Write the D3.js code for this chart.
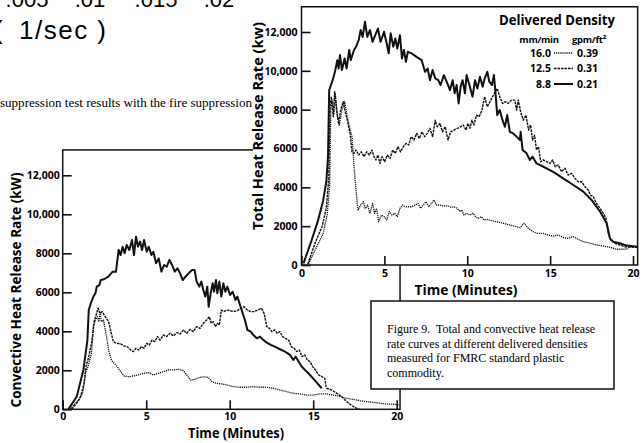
<!DOCTYPE html>
<html>
<head>
<meta charset="utf-8">
<script src="https://cdn.jsdelivr.net/npm/d3@7"></script>
<style>
  body { margin: 0; background: #fff; }
  svg { display: block; }
</style>
</head>
<body>
<svg id="fig" width="642" height="443"></svg>
<script>
// Heat release rate curves, FMRC standard plastic commodity, three sprinkler densities.
// Each series: [time (min), heat release rate (kW)]

// ---- Total heat release rate ----
const total_16_0 = [[0.42,50],[0.95,1000],[1.3,1600],[1.55,2600],[1.7,4100],[1.77,8000],[1.84,8490],[1.96,7810],[2.04,8840],[2.16,7720],[2.28,7210],[2.44,7980],[2.6,8410],[2.76,7640],[2.93,6950],[3.05,6610],[3.17,5060],[3.29,3860],[3.41,2830],[3.57,3090],[3.73,3260],[3.85,2920],[3.99,3090],[4.13,2660],[4.29,3170],[4.41,2660],[4.53,2920],[4.65,2230],[4.82,2570],[4.98,2490],[5.14,2320],[5.3,2750],[5.46,2570],[5.62,2660],[5.78,2490],[5.94,2920],[6.1,3090],[6.26,3000],[6.46,3000],[6.66,3000],[6.87,3090],[7.03,3170],[7.19,2920],[7.35,3090],[7.51,3260],[7.67,3000],[7.83,3170],[7.99,3350],[8.15,3090],[8.35,3090],[8.59,3040],[8.84,3040],[9.04,2970],[9.2,3000],[9.4,2920],[9.56,2750],[9.68,2830],[9.8,2570],[9.96,2660],[10.16,2570],[10.36,2660],[10.49,2490],[10.65,2400],[10.85,2490],[11.01,2320],[11.21,2350],[11.47,2280],[11.77,2230],[12.17,2150],[12.57,2060],[12.98,1970],[13.18,1920],[13.42,2150],[13.68,1890],[13.98,1720],[14.22,1630],[14.59,1630],[14.89,1540],[15.19,1490],[15.49,1540],[15.79,1420],[16.09,1370],[16.4,1460],[16.7,1320],[17.0,1200],[17.4,1120],[17.8,1030],[18.21,980],[18.61,910],[19.01,810],[19.41,810],[19.71,840]];

const total_12_5 = [[0.38,50],[0.85,1200],[1.25,2000],[1.5,2950],[1.64,4400],[1.72,8150],[1.8,8670],[1.92,7640],[2.0,8920],[2.12,7980],[2.24,7290],[2.36,7980],[2.52,8410],[2.64,7890],[2.76,7460],[2.93,6780],[3.05,5830],[3.17,5750],[3.29,5920],[3.45,5660],[3.61,5830],[3.77,5580],[3.93,5830],[4.09,5660],[4.25,5920],[4.37,5580],[4.49,5410],[4.61,5660],[4.73,5230],[4.86,5580],[5.02,5320],[5.18,5660],[5.34,5490],[5.5,5920],[5.66,5750],[5.82,6090],[5.98,5830],[6.14,6090],[6.3,6260],[6.46,6180],[6.62,6610],[6.79,6440],[6.95,6780],[7.11,6520],[7.27,6860],[7.43,6610],[7.59,6780],[7.75,7040],[7.91,6610],[8.07,7460],[8.19,7120],[8.35,7290],[8.51,6860],[8.67,7120],[8.84,6440],[9.0,6860],[9.2,6950],[9.4,7040],[9.6,7120],[9.76,7210],[9.92,6950],[10.04,7290],[10.16,7040],[10.28,7460],[10.4,7210],[10.56,7720],[10.72,7640],[10.89,7980],[11.05,8670],[11.21,8150],[11.37,8410],[11.53,8670],[11.69,8920],[11.81,9090],[11.96,8670],[12.13,8320],[12.29,8410],[12.47,8320],[12.67,8490],[12.87,8490],[12.98,7980],[13.08,8490],[13.22,7890],[13.38,7460],[13.54,7720],[13.7,6950],[13.82,7210],[13.94,6440],[14.06,6690],[14.18,5920],[14.3,6090],[14.43,5320],[14.59,5410],[14.79,5320],[14.99,5230],[15.15,5410],[15.31,5060],[15.49,5150],[15.69,4800],[15.89,4980],[16.09,4630],[16.3,4720],[16.5,4460],[16.7,4290],[16.9,4290],[17.1,4030],[17.3,3860],[17.44,3600],[17.6,3520],[17.8,3170],[18.01,2920],[18.21,2660],[18.37,2400],[18.51,1630],[18.65,1290],[18.91,1120],[19.21,1030],[19.51,940],[19.81,910],[20.28,910]];

const total_8_8 = [[0.12,80],[0.6,1250],[1.0,2300],[1.3,3300],[1.5,4300],[1.6,5600],[1.67,9000],[1.88,9520],[2.02,9950],[2.16,10550],[2.24,10120],[2.32,10810],[2.44,10040],[2.6,10640],[2.72,10120],[2.88,11070],[2.97,10550],[3.17,11070],[3.29,11240],[3.45,11580],[3.57,12100],[3.69,11750],[3.83,12530],[3.97,11750],[4.13,12100],[4.29,11500],[4.45,11840],[4.61,12180],[4.77,11500],[4.98,12010],[5.14,11410],[5.26,10900],[5.38,11930],[5.54,11240],[5.66,11670],[5.78,11150],[5.94,11840],[6.06,10640],[6.18,11070],[6.3,10470],[6.42,10980],[6.64,10900],[6.94,10720],[7.25,10550],[7.45,9950],[7.61,10120],[7.75,9520],[7.91,10040],[8.07,9610],[8.25,9520],[8.39,9270],[8.59,9780],[8.8,9350],[8.96,9010],[9.12,9520],[9.24,8840],[9.36,9270],[9.48,8320],[9.6,9180],[9.72,9520],[9.86,8840],[9.96,9780],[10.16,9180],[10.32,8670],[10.47,9520],[10.61,9090],[10.77,9700],[10.93,9180],[11.05,9610],[11.21,9950],[11.33,9440],[11.49,9270],[11.61,9780],[11.69,9010],[11.81,7720],[11.96,7980],[12.13,7460],[12.27,7120],[12.41,7720],[12.57,6860],[12.77,6780],[12.98,6610],[13.18,6440],[13.22,6860],[13.34,5920],[13.58,5750],[13.78,5410],[13.94,5580],[14.18,5230],[14.59,5060],[15.19,4800],[15.79,4460],[16.4,4120],[17.0,3780],[17.5,3350],[18.01,2750],[18.41,2150],[18.61,1370],[18.81,1200],[19.21,1120],[19.61,1000],[20.28,940]];

// ---- Convective heat release rate ----
const conv_16_0 = [[0.44,0],[0.94,480],[1.2,820],[1.36,1850],[1.52,2190],[1.72,2870],[1.84,4240],[1.96,4580],[2.08,4750],[2.16,4490],[2.24,4920],[2.32,4490],[2.44,4580],[2.59,3900],[2.75,3040],[2.91,2530],[3.07,2360],[3.27,2190],[3.47,1930],[3.67,1710],[3.93,1670],[4.23,1710],[4.53,1760],[4.83,1850],[5.13,1880],[5.43,1760],[5.73,1850],[6.03,1930],[6.33,2020],[6.63,2020],[6.93,2050],[7.23,1980],[7.43,1760],[7.66,1500],[7.92,1540],[8.22,1640],[8.46,1670],[8.7,1640],[8.94,1420],[9.22,1330],[9.52,1300],[9.82,1250],[10.22,1160],[10.62,1130],[11.02,1130],[11.42,1160],[11.82,1130],[12.22,1130],[12.61,1080],[13.01,990],[13.41,910],[13.81,820],[14.21,790],[14.61,730],[15.01,730],[15.41,790],[15.81,790],[16.21,730],[16.61,650],[17.01,560],[17.41,510],[17.8,440],[18.2,390],[18.6,360],[19.0,310],[19.4,270],[19.8,260],[20.16,220]];

const conv_12_5 = [[0.54,0],[1.04,560],[1.28,1330],[1.4,2190],[1.56,2700],[1.76,3550],[1.88,4490],[2.0,4840],[2.12,5180],[2.24,4920],[2.36,5010],[2.55,4750],[2.75,4490],[2.91,3900],[3.03,3470],[3.23,3380],[3.47,3350],[3.67,3250],[3.87,3210],[4.07,3040],[4.23,2960],[4.39,3130],[4.55,3040],[4.71,3210],[4.87,3130],[5.03,3380],[5.19,3300],[5.35,3550],[5.51,3470],[5.67,3730],[5.83,3550],[6.03,3810],[6.23,3730],[6.43,3900],[6.63,3760],[6.83,3930],[7.03,3860],[7.23,4070],[7.43,3900],[7.62,4100],[7.82,3980],[8.02,4240],[8.22,4150],[8.42,4410],[8.62,4580],[8.78,4750],[8.9,4410],[9.02,4490],[9.14,4240],[9.26,4410],[9.38,4320],[9.5,5090],[9.66,5010],[9.82,5090],[10.02,5060],[10.22,5010],[10.46,5060],[10.66,5180],[10.86,5260],[11.06,5090],[11.26,5010],[11.46,5010],[11.66,5090],[11.9,5180],[12.06,4920],[12.22,4240],[12.38,4150],[12.53,3980],[12.69,4070],[12.85,3900],[13.01,3980],[13.17,3730],[13.33,3640],[13.53,3550],[13.69,3210],[13.85,3130],[14.01,2960],[14.17,3040],[14.33,2700],[14.49,2790],[14.65,2530],[14.81,2440],[14.97,2190],[15.13,2020],[15.33,1760],[15.53,1670],[15.69,1590],[15.77,1160],[15.81,1080],[16.11,990],[16.41,820],[16.71,650],[17.01,390],[17.31,190],[17.6,50],[17.8,0]];

const conv_8_8 = [[0.34,0],[0.84,650],[1.24,2020],[1.48,3550],[1.56,5090],[1.68,5430],[1.84,5780],[1.96,5950],[2.04,6290],[2.2,6370],[2.28,6630],[2.48,6670],[2.73,6800],[2.99,7060],[3.19,7060],[3.35,8170],[3.47,7910],[3.59,8340],[3.71,8000],[3.83,8430],[3.99,8170],[4.15,8680],[4.27,7910],[4.39,8850],[4.51,8340],[4.63,8600],[4.75,8170],[4.87,8680],[5.03,8080],[5.15,8340],[5.31,7910],[5.43,8080],[5.59,7490],[5.75,7740],[5.91,7060],[6.07,7400],[6.23,7310],[6.39,7660],[6.55,7400],[6.71,7060],[6.87,7230],[7.03,6970],[7.19,6630],[7.35,6800],[7.54,6970],[7.74,7140],[7.9,7140],[8.02,6550],[8.18,6290],[8.3,6550],[8.42,6120],[8.54,5780],[8.66,6290],[8.74,5260],[8.86,5950],[8.98,6460],[9.06,6030],[9.18,6630],[9.26,5950],[9.38,6550],[9.5,5780],[9.62,6460],[9.74,6030],[9.86,6290],[10.02,5860],[10.18,6030],[10.34,5610],[10.46,5780],[10.62,5350],[10.78,4920],[10.94,4490],[11.06,4070],[11.26,3980],[11.42,3810],[11.62,3640],[11.82,3730],[12.02,3550],[12.22,3420],[12.46,3300],[12.71,3210],[13.01,3080],[13.31,2960],[13.61,2790],[13.81,2530],[13.95,2700],[14.31,2190],[14.71,1850],[15.11,1470],[15.51,1080]];

// ---- Legend / axis text ----
const densities_mm = ["16.0", "12.5", "8.8"];
const densities_gpm = ["0.39", "0.31", "0.21"];
const yTicks = [0, 2000, 4000, 6000, 8000, 10000, 12000];
const xTicks = [0, 5, 10, 15, 20];
const captionLines = [
  "Figure 9.  Total and convective heat release",
  "rate curves at different delivered densities",
  "measured for FMRC standard plastic",
  "commodity."
];
const strayScaleTicks = [".005", ".01", ".015", ".02"];

// line styling per density
const lineStyle = {
  "16.0": { width: 1.3, dash: "1.2,0.9" },
  "12.5": { width: 1.4, dash: "2.6,0.9" },
  "8.8":  { width: 2.0, dash: null }
};

const svg = d3.select("#fig");
const INK = "#111";
const SANS = "'Open Sans', 'DejaVu Sans', sans-serif";
const SERIF = "'Liberation Serif', 'Times New Roman', serif";
const fmtTick = v => v >= 10000 ? d3.format(",")(v) : String(v);

// ---- text belonging to the neighbouring figure / page ----
const stray = svg.append("g").attr("fill", "#000")
  .style("font-family", "'Liberation Sans', Arial, sans-serif");
const strayX = [27, 90, 156, 219];
stray.selectAll("text.tk").data(strayScaleTicks).join("text")
  .attr("class", "tk")
  .attr("x", (d, i) => strayX[i]).attr("y", 7)
  .attr("text-anchor", "middle").style("font-size", "22px").text(d => d);
stray.append("text").attr("x", -6).attr("y", 39)
  .style("font-size", "26px").text("(");
stray.append("text").attr("x", 19).attr("y", 39)
  .style("font-size", "26px").style("letter-spacing", "1.5px").text("1/sec )");
svg.append("text").attr("x", 0).attr("y", 107)
  .attr("textLength", 252).attr("lengthAdjust", "spacingAndGlyphs")
  .style("font-family", SERIF).style("font-size", "12.6px")
  .text("suppression test results with the fire suppression");

function drawPanel(opts) {
  const g = svg.append("g");
  const x = d3.scaleLinear().domain([0, 20]).range(opts.xr);
  const y = d3.scaleLinear().domain([0, 12000]).range(opts.yr);
  const xMax = opts.xMax, yMax = 13300;

  if (opts.background) {
    g.append("rect").attr("x", opts.background[0]).attr("y", 0)
      .attr("width", 642 - opts.background[0]).attr("height", y(0))
      .attr("fill", "#fff");
  }

  // series
  const line = d3.line().x(d => x(d[0])).y(d => y(d[1]));
  opts.series.forEach(s => {
    const st = lineStyle[s.key];
    g.append("path").datum(s.data)
      .attr("d", line).attr("fill", "none").attr("stroke", INK)
      .attr("stroke-width", st.width)
      .attr("stroke-linejoin", "round")
      .attr("stroke-dasharray", st.dash);
  });

  // frame
  g.append("rect")
    .attr("x", x(0)).attr("y", y(yMax))
    .attr("width", x(xMax) - x(0)).attr("height", y(0) - y(yMax))
    .attr("fill", "none").attr("stroke", INK).attr("stroke-width", 1.5);

  // axes (ticks point into the plot)
  const ya = g.append("g").attr("transform", `translate(${x(0)},0)`)
    .call(d3.axisLeft(y).tickValues(yTicks).tickFormat(fmtTick)
      .tickSizeInner(-9).tickSizeOuter(0).tickPadding(opts.yPad));
  const xa = g.append("g").attr("transform", `translate(0,${y(0)})`)
    .call(d3.axisBottom(x).tickValues(xTicks)
      .tickSizeInner(-9).tickSizeOuter(0).tickPadding(opts.xPad));
  [ya, xa].forEach(a => {
    a.select(".domain").remove();
    a.selectAll("line").attr("stroke", INK).attr("stroke-width", 1.6);
    a.selectAll("text").attr("fill", "#000")
      .style("font-family", SANS).style("font-weight", 700).style("font-size", "10.5px");
  });

  // axis titles
  g.append("text")
    .attr("transform", `translate(${opts.yTitle.x},${opts.yTitle.y}) rotate(-90)`)
    .attr("text-anchor", "middle").attr("dy", "0.35em")
    .attr("textLength", opts.yTitle.len).attr("lengthAdjust", "spacingAndGlyphs")
    .style("font-family", SANS).style("font-weight", 700).style("font-size", "15px")
    .text(opts.yTitle.text);
  g.append("text")
    .attr("x", opts.xTitle.x).attr("y", opts.xTitle.y)
    .attr("text-anchor", "middle")
    .attr("textLength", opts.xTitle.len).attr("lengthAdjust", "spacingAndGlyphs")
    .style("font-family", SANS).style("font-weight", 700).style("font-size", "13.5px")
    .text("Time (Minutes)");
  return { g, x, y };
}

// ---- Convective panel (lower left) ----
drawPanel({
  xr: [62.7, 396.7], yr: [409.3, 175.3], xMax: 20.2,
  yPad: 3, xPad: 3,
  series: [
    { key: "16.0", data: conv_16_0 },
    { key: "12.5", data: conv_12_5 },
    { key: "8.8", data: conv_8_8 }
  ],
  yTitle: { x: 16, y: 290, len: 235, text: "Convective Heat Release Rate (kW)" },
  xTitle: { x: 236, y: 438, len: 96 }
});

// ---- Total panel (upper right, laid over the lower one) ----
drawPanel({
  xr: [301.5, 633], yr: [265, 32], xMax: 20.28,
  yPad: 4, xPad: 5,
  background: [253],
  series: [
    { key: "16.0", data: total_16_0 },
    { key: "12.5", data: total_12_5 },
    { key: "8.8", data: total_8_8 }
  ],
  yTitle: { x: 258, y: 126, len: 208, text: "Total Heat Release Rate (kw)" },
  xTitle: { x: 466, y: 295, len: 103 }
});

// legend
const lg = svg.append("g").attr("fill", "#000")
  .style("font-family", SANS).style("font-weight", 700);
lg.append("text").attr("x", 615).attr("y", 25).attr("text-anchor", "end")
  .attr("textLength", 116).attr("lengthAdjust", "spacingAndGlyphs")
  .style("font-size", "15px").text("Delivered Density");
lg.append("text").attr("x", 539).attr("y", 43).attr("text-anchor", "middle")
  .style("font-size", "9.5px").style("letter-spacing", "-0.3px").text("mm/min");
lg.append("text").attr("x", 589).attr("y", 43).attr("text-anchor", "middle")
  .style("font-size", "9.5px").style("letter-spacing", "-0.3px").text("gpm/ft²");
const rowY = [53, 68.5, 84];
densities_mm.forEach((k, i) => {
  lg.append("text").attr("x", 551).attr("y", rowY[i]).attr("dy", "0.35em")
    .attr("text-anchor", "end").style("font-size", "10.5px").text(k);
  lg.append("text").attr("x", 577).attr("y", rowY[i]).attr("dy", "0.35em")
    .style("font-size", "10.5px").text(densities_gpm[i]);
  const st = lineStyle[k];
  lg.append("line").attr("x1", 554).attr("x2", 573)
    .attr("y1", rowY[i]).attr("y2", rowY[i])
    .attr("stroke", INK).attr("stroke-width", st.width)
    .attr("stroke-dasharray", st.dash);
});

// caption box
const cap = svg.append("g");
cap.append("rect").attr("x", 371).attr("y", 301).attr("width", 243).attr("height", 88)
  .attr("fill", "#fff").attr("stroke", INK).attr("stroke-width", 1.5);
cap.selectAll("text").data(captionLines).join("text")
  .attr("x", 387).attr("y", (d, i) => 333 + i * 14.5)
  .style("font-family", SERIF).style("font-size", "12px").style("white-space", "pre")
  .attr("fill", "#000")
  .text(d => d);
</script>
</body>
</html>
